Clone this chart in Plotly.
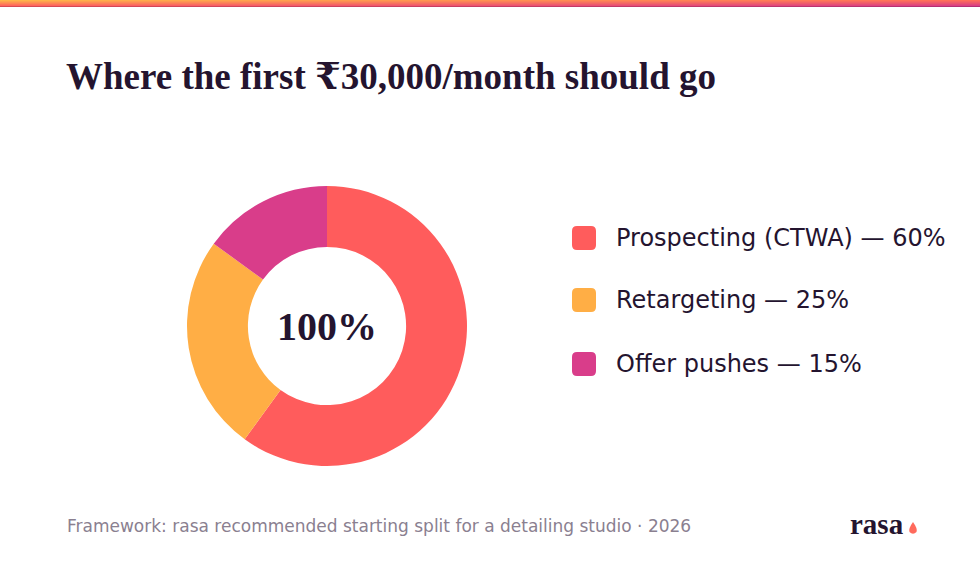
import plotly.graph_objects as go
import re

W, H = 980, 572

# ---- data ----
labels = ["Prospecting (CTWA)", "Retargeting", "Offer pushes"]
values = [60, 25, 15]
colors = ["#FF5C5C", "#FFAE45", "#D93D8A"]
center_label = "100%"
title_text = "Where the first ₹30,000/month should go"
footer_text = "Framework: rasa recommended starting split for a detailing studio · 2026"
brand_text = "rasa"

INK = "#24142F"


def px(x):
    return x / W


def py(y):
    return 1 - y / H


fig = go.Figure()

fig.add_trace(go.Pie(
    labels=labels,
    values=values,
    marker=dict(colors=colors, line=dict(width=0)),
    hole=0.565,
    sort=False,
    direction="clockwise",
    rotation=0,
    textinfo="none",
    hoverinfo="label+percent",
    showlegend=False,
    domain=dict(x=[px(187), px(467)], y=[py(466), py(186)]),
))

shapes = []
annotations = []


def lerp(a, b, t):
    return tuple(a[i] + (b[i] - a[i]) * t for i in range(3))


# top gradient bar
TL, TR = (255, 180, 74), (255, 110, 90)
BL, BR = (255, 88, 96), (212, 56, 138)
rows, cols = 7, 49
for r in range(rows):
    tr = r / (rows - 1)
    left = lerp(TL, BL, tr)
    right = lerp(TR, BR, tr)
    for c in range(cols):
        tc = c / (cols - 1)
        col = lerp(left, right, tc)
        if r == rows - 1:
            col = tuple(v * 0.85 for v in col)
        shapes.append(dict(
            type="rect", xref="paper", yref="paper",
            x0=px(c * W / cols), x1=px((c + 1) * W / cols + 0.5),
            y0=py(r + 1), y1=py(r),
            fillcolor="rgb(%d,%d,%d)" % col, line=dict(width=0), layer="above",
        ))

# title
annotations.append(dict(
    text="<b>%s</b>" % title_text, x=px(64), y=py(77), xref="paper", yref="paper",
    xanchor="left", yanchor="middle", showarrow=False,
    font=dict(family="Liberation Serif, DejaVu Serif, serif", size=37, color=INK),
))

# center label
annotations.append(dict(
    text="<b>%s</b>" % center_label, x=px(327), y=py(326), xref="paper", yref="paper",
    xanchor="center", yanchor="middle", showarrow=False,
    font=dict(family="Liberation Serif, DejaVu Serif, serif", size=40, color=INK),
))


def conv(m):
    a, b = float(m.group(1)), float(m.group(2))
    return f"{px(a):.5f},{py(b):.5f}"


# custom legend
row_y = [238, 300, 364]
for lab, val, colr, yy in zip(labels, values, colors, row_y):
    x0, x1 = 572, 596
    y0, y1 = yy - 12, yy + 12
    r = 5
    path = (
        f"M {x0 + r},{y0} L {x1 - r},{y0} Q {x1},{y0} {x1},{y0 + r} "
        f"L {x1},{y1 - r} Q {x1},{y1} {x1 - r},{y1} L {x0 + r},{y1} "
        f"Q {x0},{y1} {x0},{y1 - r} L {x0},{y0 + r} Q {x0},{y0} {x0 + r},{y0} Z"
    )
    ppath = re.sub(r"([\d.]+),([\d.]+)", conv, path)
    shapes.append(dict(type="path", xref="paper", yref="paper", path=ppath,
                       fillcolor=colr, line=dict(width=0)))
    annotations.append(dict(
        text=f"{lab} — {val}%", x=px(614), y=py(yy), xref="paper", yref="paper",
        xanchor="left", yanchor="middle", showarrow=False,
        font=dict(family="DejaVu Sans, Noto Sans, sans-serif", size=24, color=INK),
    ))

# footer
annotations.append(dict(
    text=footer_text, x=px(65), y=py(526), xref="paper", yref="paper",
    xanchor="left", yanchor="middle", showarrow=False,
    font=dict(family="DejaVu Sans, Noto Sans, sans-serif", size=17, color="#8A8090"),
))
annotations.append(dict(
    text="<b>%s</b>" % brand_text, x=px(906), y=py(524), xref="paper", yref="paper",
    xanchor="right", yanchor="middle", showarrow=False,
    font=dict(family="Liberation Serif, DejaVu Serif, serif", size=29, color=INK),
))
# drop glyph
dx, dy = 913, 529
drop = (f"M {px(dx):.5f},{py(dy - 7):.5f} "
        f"Q {px(dx + 5):.5f},{py(dy):.5f} {px(dx + 3.5):.5f},{py(dy + 3):.5f} "
        f"Q {px(dx):.5f},{py(dy + 6.5):.5f} {px(dx - 3.5):.5f},{py(dy + 3):.5f} "
        f"Q {px(dx - 5):.5f},{py(dy):.5f} {px(dx):.5f},{py(dy - 7):.5f} Z")
shapes.append(dict(type="path", xref="paper", yref="paper", path=drop,
                   fillcolor="#FF6A5C", line=dict(width=0)))

fig.update_layout(
    width=W, height=H, autosize=False,
    margin=dict(l=0, r=0, t=0, b=0),
    paper_bgcolor="white", plot_bgcolor="white",
    shapes=shapes, annotations=annotations,
)

fig.write_html("out.html")
